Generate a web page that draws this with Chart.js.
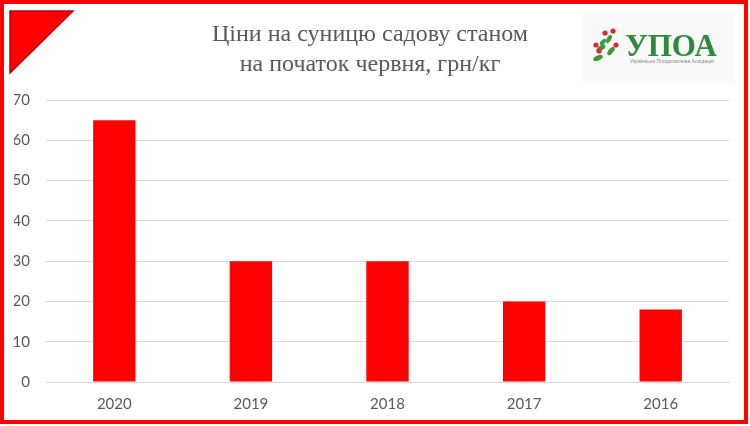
<!DOCTYPE html>
<html lang="uk">
<head>
    <meta charset="UTF-8">
    <title>Ціни на суницю садову</title>
    <style>
        body {
            margin: 0;
            padding: 0;
            background: #ffffff;
        }
        #wrap {
            width: 750px;
            height: 426px;
        }
    </style>
    <script src="https://cdn.jsdelivr.net/npm/chart.js"></script>
</head>
<body>
    <div id="wrap"><canvas id="priceChart" width="750" height="426"></canvas></div>
    <script>
        const years = ['2020', '2019', '2018', '2017', '2016'];
        const prices = [65, 30, 30, 20, 18];
        const yTicks = [0, 10, 20, 30, 40, 50, 60, 70];
        const titleLines = ['Ціни на суницю садову станом', 'на початок червня, грн/кг'];

        // frame, corner triangle, title and logo
        const decor = {
            id: 'decor',
            beforeDraw(chart) {
                const c = chart.ctx;
                c.save();
                c.fillStyle = '#ffffff';
                c.fillRect(0, 0, chart.width, chart.height);

                // logo background
                c.fillStyle = '#f9f9f9';
                c.fillRect(582, 12, 153, 71);
                c.restore();
            },
            afterDraw(chart) {
                const c = chart.ctx;
                c.save();

                // red frame
                c.strokeStyle = '#ff0000';
                c.lineWidth = 4;
                c.strokeRect(2, 2, 744, 420);

                // corner triangle
                c.beginPath();
                c.moveTo(10, 11);
                c.lineTo(73, 11);
                c.lineTo(10, 73);
                c.closePath();
                c.fillStyle = '#ff0000';
                c.fill();
                c.strokeStyle = '#c00000';
                c.lineWidth = 1.5;
                c.stroke();

                // title
                c.fillStyle = '#595959';
                c.font = '24px "Liberation Serif", "DejaVu Serif", serif';
                c.textAlign = 'center';
                c.textBaseline = 'alphabetic';
                c.fillText(titleLines[0], 370, 41);
                c.fillText(titleLines[1], 370, 71);

                // logo: leaves and berries
                const leaves = [[601, 48, 5, 2.5, -0.6], [611, 51, 5, 2.5, -0.9], [598, 58, 5, 2.5, -0.4], [609, 39, 4.5, 2.2, -1.1], [603, 42, 4, 2, -0.8]];
                c.fillStyle = '#3a9a3e';
                leaves.forEach(l => {
                    c.beginPath();
                    c.ellipse(l[0], l[1], l[2], l[3], l[4], 0, Math.PI * 2);
                    c.fill();
                });
                const berries = [[605, 33], [613, 31], [596, 45], [616, 45], [599, 51]];
                c.fillStyle = '#e0262a';
                berries.forEach(b => {
                    c.beginPath();
                    c.arc(b[0], b[1], 2.6, 0, Math.PI * 2);
                    c.fill();
                });

                c.fillStyle = '#2f8a3c';
                c.font = 'bold 31px "Liberation Serif", serif';
                c.textAlign = 'left';
                c.fillText('УПОА', 625, 56);
                c.fillStyle = '#888888';
                c.font = '5px "Liberation Sans", sans-serif';
                c.fillText('Українська Плодоовочева Асоціація', 630, 63);
                c.restore();
            }
        };

        new Chart(document.getElementById('priceChart'), {
            type: 'bar',
            data: {
                labels: years,
                datasets: [{
                    data: prices,
                    backgroundColor: '#ff0000',
                    categoryPercentage: 1,
                    barPercentage: 0.31
                }]
            },
            options: {
                responsive: false,
                animation: false,
                devicePixelRatio: 1,
                layout: {
                    padding: { top: 100, left: 14, right: 21, bottom: 0 }
                },
                plugins: {
                    legend: { display: false },
                    tooltip: { enabled: false }
                },
                scales: {
                    x: {
                        grid: { display: false, drawTicks: false },
                        border: { color: '#d9d9d9' },
                        ticks: {
                            color: '#595959',
                            padding: 13,
                            font: { family: 'Lato, "Liberation Sans", sans-serif', size: 15 }
                        }
                    },
                    y: {
                        min: 0,
                        max: 70,
                        afterFit(scale) { scale.width = 32; },
                        afterBuildTicks(scale) {
                            scale.ticks = yTicks.map(v => ({ value: v }));
                        },
                        grid: { color: '#d9d9d9', drawTicks: false },
                        border: { display: false },
                        ticks: {
                            color: '#595959',
                            padding: 16,
                            font: { family: 'Lato, "Liberation Sans", sans-serif', size: 15 }
                        }
                    }
                }
            },
            plugins: [decor]
        });
    </script>
</body>
</html>
